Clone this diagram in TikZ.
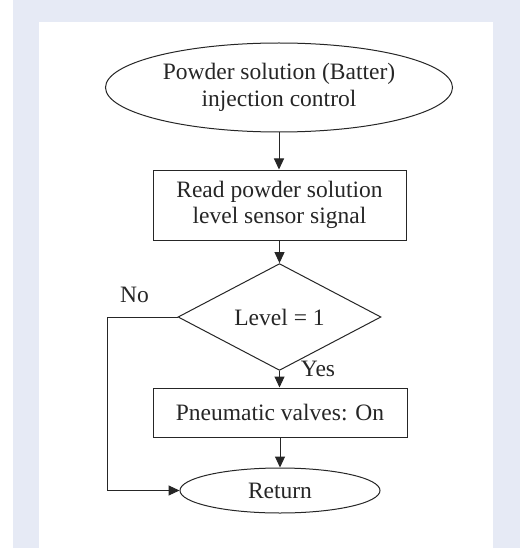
\documentclass[tikz,border=0pt]{standalone}
\usepackage{fontspec}
\setmainfont{Liberation Serif}
\usetikzlibrary{shapes.geometric,arrows.meta}
\definecolor{pagetint}{HTML}{E6EAF5}
\definecolor{ink}{HTML}{262626}

\begin{document}
\begin{tikzpicture}[x=1pt,y=-1pt,
  every node/.style={font=\fontsize{23.5}{26.5}\selectfont, text=ink, inner sep=0pt, align=center},
  shapeline/.style={draw=ink, line width=1pt, fill=white},
  term/.style={ellipse, shapeline},
  proc/.style={rectangle, shapeline},
  decision/.style={diamond, shapeline},
  flow/.style={draw=ink, line width=1pt, -{Triangle[length=11pt,width=10pt]}}
]
% page frame: tinted band with a white panel inside
\fill[white] (0,0) rectangle (523,548);
\fill[pagetint] (13,0) rectangle (520,548);
\fill[white] (39,22) rectangle (493,548);
\useasboundingbox (0,0) rectangle (523,548);

% flowchart blocks
\node[term, minimum width=347pt, minimum height=89pt] (start) at (279,87.5)
  {Powder solution (Batter)\\injection control};
\node[proc, minimum width=253pt, minimum height=70pt] (read) at (279.5,205)
  {Read powder solution\\level sensor signal};
\node[decision, minimum width=203pt, minimum height=76pt] (dec) at (279.5,317)
  {Level = 1};
\node[proc, minimum width=254pt, minimum height=49pt] (act) at (280,412.5)
  {Pneumatic valves: On};
\node[term, minimum width=200pt, minimum height=45pt] (ret) at (280,490.5)
  {Return};

% branch labels
\node (no) at (134.5,295) {No};
\node (yes) at (318,369) {Yes};

% connectors
\coordinate (nobend) at (107,317);
\draw[flow] (start.south) -- (start.south |- read.north);
\draw[flow] (read.south) -- (read.south |- dec.north);
\draw[flow] (dec.south) -- (dec.south |- act.north);
\draw[flow] (act.south) -- (act.south |- ret.north);
\draw[flow] (dec.west) -- (nobend) |- (ret.west);
\end{tikzpicture}
\end{document}
